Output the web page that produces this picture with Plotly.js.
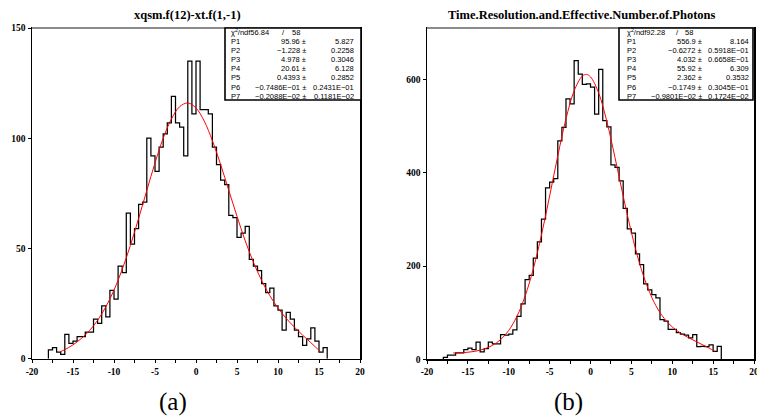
<!DOCTYPE html>
<html><head><meta charset="utf-8">
<script src="https://cdn.plot.ly/plotly-3.0.1.min.js"></script>
<style>html,body{margin:0;padding:0;background:#fff}#plot{width:757px;height:418px}</style>
</head><body><div id="plot"></div>
<script>
// ---- data ----
const binStart = -18, binWidth = 0.5;
const countsA = [4,5,3,2,11,7,8,10,10,12,12,18,16,24,19,31,27,42,39,66,52,59,70,71,100,92,85,96,102,107,119,107,105,92,135,111,135,113,113,111,96,88,81,79,65,64,55,57,60,45,42,40,34,30,32,24,22,13,21,18,13,10,6,9,14,8,3,5];
const countsB = [4,9,9,14,14,21,24,21,37,16,23,37,33,33,53,52,54,63,92,119,171,180,217,252,301,368,380,388,469,498,559,548,641,612,590,591,584,526,622,512,499,417,412,383,324,280,271,226,203,162,149,139,132,85,82,64,64,57,54,52,46,53,27,28,27,31,17,28];
const fitXA = [-16.6,-16,-15,-14,-13,-12,-11,-10,-9,-8,-7,-6,-5,-4,-3,-2,-1,0,1,2,3,4,5,6,7,8,9,10,11,12,13,14,15,15.2];
const fitYA = [3.1,4.1,6.3,9.1,12.7,17.4,23.5,31.1,40.5,51.4,63.6,76.3,88.8,100.0,108.7,114.3,116.0,113.7,107.8,98.9,88.1,76.3,64.6,53.5,43.8,35.5,28.6,23.0,18.3,14.3,10.7,7.3,3.8,3.1];
const fitXB = [-16.8,-16,-15,-14,-13,-12,-11,-10,-9,-8,-7,-6,-5,-4,-3,-2,-1,-0.5,0,1,2,3,4,5,6,7,8,9,10,11,12,13,14,15,15.2];
const fitYB = [13.5,13.9,15.2,17.7,22.2,29.8,42.2,62.0,92.1,135.5,193.9,266.7,350.3,436.8,515.9,576.1,607.9,611.3,606.1,571.4,510.2,432.7,350.2,272.4,205.9,153.6,115.0,88.1,69.5,56.4,46.3,37.4,28.6,19.2,17.2];
const xTickVals = [-20,-15,-10,-5,0,5,10,15,20];
const xTickText = ['-20','-15','-10','-5','0','5','10','15','20'];
const yTickValsA = [0,50,100,150];
const yTickValsB = [0,200,400,600];
const titleA = 'xqsm.f(12)-xt.f(1,-1)';
const titleB = 'Time.Resolution.and.Effective.Number.of.Photons';
const parNames = ['P1','P2','P3','P4','P5','P6','P7'];
const parValA = ['95.96','\u22121.228','4.978','20.61','0.4393','\u22120.7486E\u221201','\u22120.2088E\u221202'];
const parErrA = ['5.827','0.2258','0.3046','6.128','0.2852','0.2431E\u221201','0.1181E\u221202'];
const parValB = ['556.9','\u22120.6272','4.032','55.92','2.362','\u22120.1749','\u22120.9801E\u221202'];
const parErrB = ['8.164','0.5918E\u221201','0.6658E\u221201','6.309','0.3532','0.3045E\u221201','0.1724E\u221202'];
const chi2A = '56.84', chi2B = '92.28', ndfA = '58', ndfB = '58';
const captions = ['(a)','(b)'];

// ---- build ----
const W = 757, H = 418;
const PX = x => x / W, PY = y => 1 - y / H;

function stepTrace(counts, xa, ya) {
  const xs = [binStart], ys = [0];
  counts.forEach((c, i) => { xs.push(binStart + i * binWidth); ys.push(c); });
  const end = binStart + counts.length * binWidth;
  xs.push(end); ys.push(counts[counts.length - 1]);
  xs.push(end); ys.push(0);
  return {x: xs, y: ys, type: 'scatter', mode: 'lines', line: {shape: 'hv', color: '#000', width: 1.25}, xaxis: xa, yaxis: ya, hoverinfo: 'skip'};
}
function fitTrace(xs, ys, xa, ya) {
  return {x: xs, y: ys, type: 'scatter', mode: 'lines', line: {shape: 'spline', color: '#ff0000', width: 1}, xaxis: xa, yaxis: ya, hoverinfo: 'skip'};
}

const tickFont = {family: 'Liberation Serif', size: 9.5, color: '#000'};
const bold = s => '<b>' + s + '</b>';
function xAxis(dom, anchor) {
  return {domain: dom, range: [-20, 20], tickmode: 'array', tickvals: xTickVals, ticktext: xTickText.map(bold),
    ticks: 'outside', ticklen: 3, tickwidth: 1, tickcolor: '#000', showline: true, linecolor: '#000', linewidth: 1.5,
    mirror: true, showgrid: false, zeroline: false, tickfont: tickFont, anchor: anchor, fixedrange: true,
    ticklabeloverflow: 'allow',
    minor: {tickmode: 'linear', tick0: 0, dtick: 2.5, ticks: 'outside', ticklen: 3, tickcolor: '#000', tickwidth: 1, showgrid: false}};
}
function yAxis(dom, range, vals, anchor) {
  return {domain: dom, range: range, tickmode: 'array', tickvals: vals, ticktext: vals.map(v => bold(String(v))),
    ticks: 'outside', ticklen: 3, tickwidth: 1, tickcolor: '#000', showline: true, linecolor: '#000', linewidth: 1.5,
    mirror: true, showgrid: false, zeroline: false, tickfont: tickFont, anchor: anchor, fixedrange: true};
}

const annotations = [];
const shapes = [];
function txt(text, x, y, xanchor, size, family, extra) {
  annotations.push(Object.assign({text: text, x: PX(x), y: PY(y), xref: 'paper', yref: 'paper', xanchor: xanchor, yanchor: 'middle', showarrow: false,
    font: {family: family || 'Liberation Sans', size: size || 7.5, color: '#000'}}, extra || {}));
}
function statBox(bx0, bx1, labX, valR, errR, slashX, ndfR, chi2, ndf, vals, errs) {
  shapes.push({type: 'rect', xref: 'paper', yref: 'paper', x0: PX(bx0), x1: PX(bx1), y0: PY(100), y1: PY(28), line: {color: '#000', width: 1.6}, fillcolor: '#fff', layer: 'above'});
  const y0 = 32.4, dy = 9.1;
  txt('\u03c7<sup>2</sup>/ndf' + chi2, labX, y0, 'left');
  txt('/', slashX, y0, 'center');
  txt(ndf, ndfR, y0, 'right');
  parNames.forEach((n, i) => {
    const y = y0 + dy * (i + 1);
    txt(n, labX, y, 'left');
    txt(vals[i] + ' \u00b1', valR, y, 'right');
    txt(errs[i], errR, y, 'right');
  });
}

// top frame line (grey)
shapes.push({type: 'line', xref: 'x domain', yref: 'y domain', x0: 0, x1: 1, y0: 1, y1: 1, line: {color: '#8c8c8c', width: 2}, layer: 'above'});
shapes.push({type: 'line', xref: 'x2 domain', yref: 'y2 domain', x0: 0, x1: 1, y0: 1, y1: 1, line: {color: '#8c8c8c', width: 2}, layer: 'above'});

statBox(225, 361, 229, 308, 356, 283.5, 302, chi2A, ndfA, parValA, parErrA);
statBox(619, 753, 625, 704, 751, 677, 695, chi2B, ndfB, parValB, parErrB);

const titleFont = {family: 'Liberation Serif', size: 12.5, color: '#000'};
annotations.push({text: bold(titleA), x: PX(187), y: PY(15), xref: 'paper', yref: 'paper', xanchor: 'center', yanchor: 'middle', showarrow: false, font: titleFont});
annotations.push({text: bold(titleB), x: PX(582), y: PY(15), xref: 'paper', yref: 'paper', xanchor: 'center', yanchor: 'middle', showarrow: false, font: titleFont});
annotations.push({text: captions[0], x: PX(172.5), y: PY(402), xref: 'paper', yref: 'paper', xanchor: 'center', yanchor: 'middle', showarrow: false, font: {family: 'Liberation Serif', size: 25, color: '#000'}});
annotations.push({text: captions[1], x: PX(568), y: PY(402), xref: 'paper', yref: 'paper', xanchor: 'center', yanchor: 'middle', showarrow: false, font: {family: 'Liberation Serif', size: 25, color: '#000'}});

const data = [
  stepTrace(countsA, 'x', 'y'), fitTrace(fitXA, fitYA, 'x', 'y'),
  stepTrace(countsB, 'x2', 'y2'), fitTrace(fitXB, fitYB, 'x2', 'y2')
];
const layout = {
  width: W, height: H, margin: {l: 0, r: 0, t: 0, b: 0}, paper_bgcolor: '#fff', plot_bgcolor: '#fff', showlegend: false,
  xaxis: xAxis([32 / W, 360 / W], 'y'),
  yaxis: yAxis([PY(358.7), PY(28)], [0, 150], yTickValsA, 'x'),
  xaxis2: xAxis([427 / W, 754 / W], 'y2'),
  yaxis2: yAxis([PY(359.3), PY(28)], [0, 711], yTickValsB, 'x2'),
  annotations: annotations, shapes: shapes
};
Plotly.newPlot('plot', data, layout, {staticPlot: true, displayModeBar: false});
</script></body></html>
